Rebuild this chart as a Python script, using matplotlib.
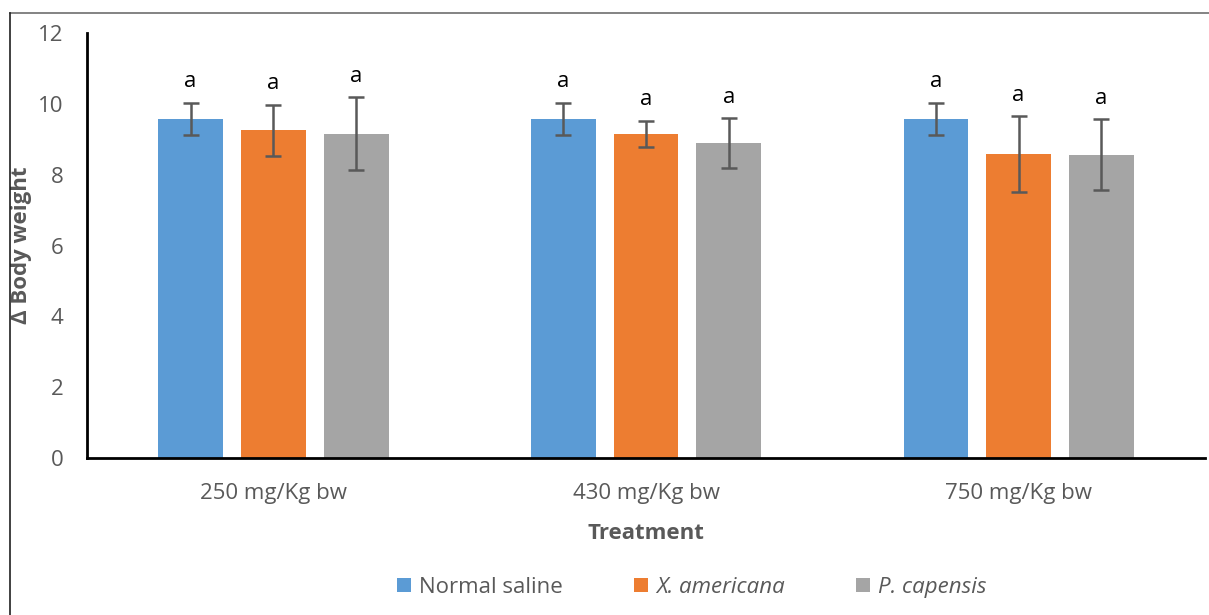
import numpy as np
import matplotlib.pyplot as plt
from matplotlib.lines import Line2D

plt.rcParams['font.family'] = ['Open Sans', 'DejaVu Sans']

# data
groups = ['250 mg/Kg bw', '430 mg/Kg bw', '750 mg/Kg bw']
series = ['Normal saline', 'X. americana', 'P. capensis']
normal_saline = [9.57, 9.57, 9.57]
normal_saline_err = [0.46, 0.46, 0.46]
x_americana = [9.26, 9.15, 8.58]
x_americana_err = [0.72, 0.37, 1.07]
p_capensis = [9.15, 8.89, 8.56]
p_capensis_err = [1.03, 0.70, 1.00]
letters = ['a', 'a', 'a']

colors = ['#5B9BD5', '#ED7D31', '#A5A5A5']
grey_text = '#595959'

fig = plt.figure(figsize=(12.09, 6.15), dpi=100)
ax = fig.add_axes([0.072, 0.2553, 0.9247, 0.691])

x = np.arange(len(groups))
width = 0.174
offset = 0.222
vals = [normal_saline, x_americana, p_capensis]
errs = [normal_saline_err, x_americana_err, p_capensis_err]
styles = ['normal', 'italic', 'italic']

handles = []
for i, (v, e) in enumerate(zip(vals, errs)):
    pos = x + (i - 1) * offset
    b = ax.bar(pos, v, width, color=colors[i], yerr=e, capsize=6,
               error_kw=dict(ecolor=grey_text, elinewidth=1.8, capthick=1.8), zorder=2)
    handles.append(b)
    for xi, vi, ei, lt in zip(pos, v, e, letters):
        ax.text(xi, vi + ei + 0.3, lt, ha='center', va='bottom', fontsize=16, color='black')

ax.set_xlim(-0.5, 2.5)
ax.set_ylim(0, 12)
ax.set_yticks(range(0, 13, 2))
ax.set_xticks(x)
ax.set_xticklabels(groups)
ax.tick_params(axis='both', length=0, labelsize=16, labelcolor=grey_text)
ax.tick_params(axis='y', pad=17)
ax.tick_params(axis='x', pad=18)
for s in ['top', 'right']:
    ax.spines[s].set_visible(False)
for s in ['left', 'bottom']:
    ax.spines[s].set_linewidth(2)
    ax.spines[s].set_color('black')

ax.set_xlabel('Treatment', fontsize=16, fontweight='bold', color=grey_text, labelpad=14)
ax.set_ylabel('Δ Body weight', fontsize=16, fontweight='bold', color=grey_text)
ax.yaxis.set_label_coords(-0.049, 0.5)

leg = fig.legend(handles, series, loc='center', bbox_to_anchor=(0.572, 0.045), ncol=3,
                 frameon=False, fontsize=16, handlelength=0.65, handleheight=0.65,
                 columnspacing=3.2, handletextpad=0.35)
for t, st in zip(leg.get_texts(), styles):
    t.set_color(grey_text)
    t.set_fontstyle(st)

# outer frame lines (top and left) as in the reference screenshot
fig.add_artist(Line2D([10 / 1209, 1], [1 - 13 / 615, 1 - 13 / 615], color='#6e6e6e', lw=1.2))
fig.add_artist(Line2D([10 / 1209, 10 / 1209], [0, 1 - 13 / 615], color='#202020', lw=1.2))

fig.savefig('out.png', dpi=100)
